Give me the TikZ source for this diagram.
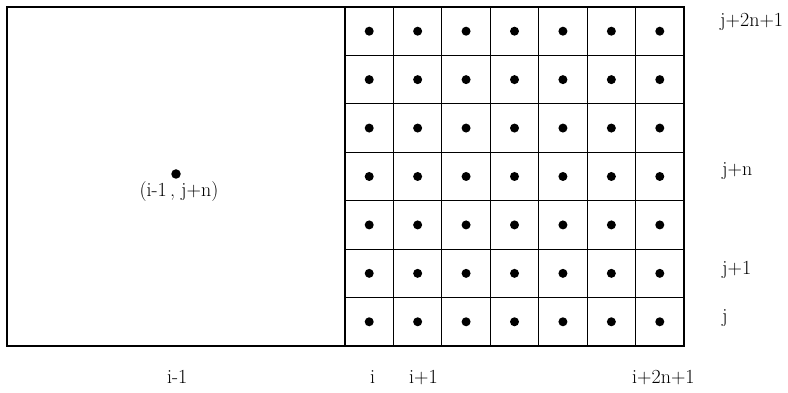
\documentclass[tikz,border=0pt]{standalone}
\begin{document}
\begin{tikzpicture}[x=1pt,y=1pt,
  cell/.style={draw, line width=1.1pt, minimum width=48.43pt, minimum height=48.43pt, inner sep=0pt, outer sep=0pt},
  gpt/.style={circle, fill=black, inner sep=0pt, minimum size=9pt},
  lab/.style={font=\fontsize{20}{23}\selectfont, inner sep=0pt, anchor=base west}]
\useasboundingbox (0,0) rectangle (788,393);
% left big cell
\node[draw, line width=1.1pt, minimum width=338pt, minimum height=339pt, anchor=south west, inner sep=0pt, outer sep=0pt] (big) at (7,47) {};
\node[gpt, minimum size=9.5pt] (p) at (176,219) {};
\node[font=\fontsize{20}{23}\selectfont, inner sep=0pt, anchor=base] (plab) at (179,196) {(i-1\,, j+n)};
% fine grid
\foreach \c in {1,...,7} {
  \foreach \r in {1,...,7} {
    \node[cell] (c\c-\r) at ({345+(\c-0.5)*48.43},{47+(\r-0.5)*48.43}) {};
    \node[gpt] (d\c-\r) at (c\c-\r.center) {};
  }
}
% row labels
\node[lab] (r7) at (720,366) {j+2n+1};
\node[lab] (r4) at (722,217) {j+n};
\node[lab] (r2) at (722,118) {j+1};
\node[lab] (r1) at (722,70) {j};
% column labels
\node[lab] (cim1) at (167,9) {i-1};
\node[lab] (ci) at (370,9) {i};
\node[lab] (ci1) at (409,9) {i+1};
\node[lab] (cin) at (632,9) {i+2n+1};
\end{tikzpicture}
\end{document}
